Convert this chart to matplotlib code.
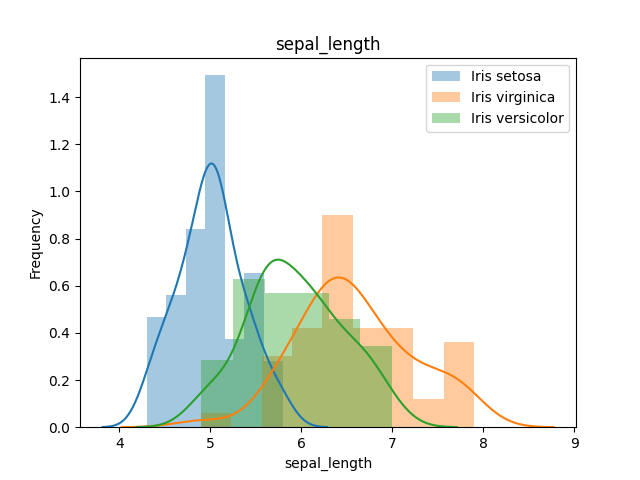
import numpy as np
import matplotlib
matplotlib.use("Agg")
import matplotlib.pyplot as plt

setosa = [5.1,4.9,4.7,4.6,5.0,5.4,4.6,5.0,4.4,4.9,5.4,4.8,4.8,4.3,5.8,5.7,5.4,5.1,5.7,5.1,5.4,5.1,4.6,5.1,4.8,5.0,5.0,5.2,5.2,4.7,4.8,5.4,5.2,5.5,4.9,5.0,5.5,4.9,4.4,5.1,5.0,4.5,4.4,5.0,5.1,4.8,5.1,4.6,5.3,5.0]
virginica = [6.3,5.8,7.1,6.3,6.5,7.6,4.9,7.3,6.7,7.2,6.5,6.4,6.8,5.7,5.8,6.4,6.5,7.7,7.7,6.0,6.9,5.6,7.7,6.3,6.7,7.2,6.2,6.1,6.4,7.2,7.4,7.9,6.4,6.3,6.1,7.7,6.3,6.4,6.0,6.9,6.7,6.9,5.8,6.8,6.7,6.7,6.3,6.5,6.2,5.9]
versicolor = [7.0,6.4,6.9,5.5,6.5,5.7,6.3,4.9,6.6,5.2,5.0,5.9,6.0,6.1,5.6,6.7,5.6,5.8,6.2,5.6,5.9,6.1,6.3,6.1,6.4,6.6,6.8,6.7,6.0,5.7,5.5,5.5,5.8,6.0,5.4,6.0,6.7,6.3,5.6,5.5,5.5,6.1,5.8,5.0,5.6,5.7,5.7,6.2,5.1,5.7]
labels = ["Iris setosa", "Iris virginica", "Iris versicolor"]
colors = ["#1f77b4", "#ff7f0e", "#2ca02c"]

fig, ax = plt.subplots(figsize=(6.4, 4.8), dpi=100)
for data, lab, c in zip([setosa, virginica, versicolor], labels, colors):
    a = np.asarray(data)
    iqr = np.percentile(a, 75) - np.percentile(a, 25)
    h = 2 * iqr / len(a) ** (1 / 3)
    bins = min(int(np.ceil((a.max() - a.min()) / h)), 50)
    ax.hist(a, bins=bins, density=True, alpha=0.4, color=c, label=lab)
    bw = a.std(ddof=1) * len(a) ** (-1 / 5)
    xs = np.linspace(a.min() - 3 * bw, a.max() + 3 * bw, 200)
    ys = np.exp(-0.5 * ((xs[:, None] - a[None, :]) / bw) ** 2).sum(1) / (len(a) * bw * np.sqrt(2 * np.pi))
    ax.plot(xs, ys, color=c, lw=1.5)
ax.set_ylim(0, None)
ax.set_title("sepal_length")
ax.set_xlabel("sepal_length")
ax.set_ylabel("Frequency")
ax.legend(loc="upper right")
fig.savefig("out.png")
